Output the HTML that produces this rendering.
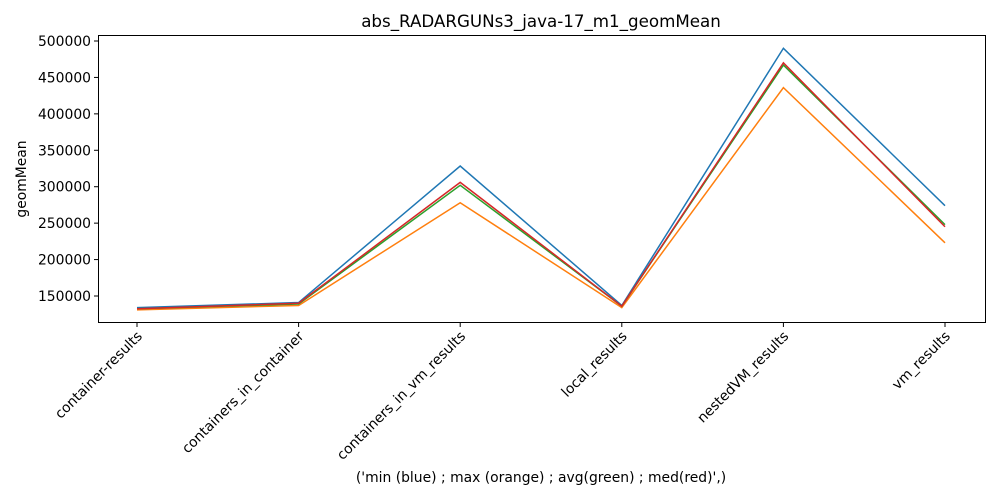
<!DOCTYPE html>
<html><head><meta charset="utf-8"><style>body{margin:0;background:#fff}svg{display:block;font-family:"DejaVu Sans","Liberation Sans",sans-serif}</style></head>
<body>
<svg id="chart" width="1000" height="500">
<rect width="1000" height="500" fill="#fff"/>
<text x="541" y="27" text-anchor="middle" font-size="16.7">abs_RADARGUNs3_java-17_m1_geomMean</text>
<text x="541" y="482" text-anchor="middle" font-size="13.9">('min (blue) ; max (orange) ; avg(green) ; med(red)',)</text>
<text transform="translate(26,179) rotate(-90)" text-anchor="middle" font-size="13.9">geomMean</text>
<g id="plot"></g>
<rect x="98.5" y="35.5" width="887" height="287" fill="none" stroke="#000" stroke-width="1"/>
</svg>
<script>
const categories=["container-results","containers_in_container","containers_in_vm_results","local_results","nestedVM_results","vm_results"];
const minVals=[134000,141000,328400,137000,490000,274000];
const maxVals=[131000,137000,278000,134000,436000,223000];
const avgVals=[132500,139000,302000,136000,467000,248000];
const medVals=[132500,140000,306000,136000,470000,245000];
const yTicks=[150000,200000,250000,300000,350000,400000,450000,500000];
const ns="http://www.w3.org/2000/svg";
const g=document.getElementById('plot');
const x=i=>137+i*161.6;
const y=v=>296-(v-150000)*255/350000;
function mk(t,a){const e=document.createElementNS(ns,t);for(const k in a)e.setAttribute(k,a[k]);g.appendChild(e);return e;}
yTicks.forEach(v=>{
 const t=mk('line',{x1:94,x2:98.5,y1:y(v),y2:y(v),stroke:'#000'});
 
 
 const l=mk('text',{x:91,y:y(v)+5,'text-anchor':'end','font-size':'13.9'});
 l.textContent=v;
 
 
});
categories.forEach((c,i)=>{
 const t=mk('line',{x1:x(i),x2:x(i),y1:322.5,y2:327,stroke:'#000'});
 
 
 const l=mk('text',{x:x(i)+6,y:337,'text-anchor':'end','font-size':'13.9',transform:`rotate(-45 ${x(i)+6} 337)`});
 l.textContent=c;
 
 
});
[[minVals,'#1f77b4','min'],[maxVals,'#ff7f0e','max'],[avgVals,'#2ca02c','avg'],[medVals,'#d62728','med']].forEach(([vals,col,n])=>{
 const p=mk('polyline',{points:vals.map((v,i)=>x(i)+','+y(v)).join(' '),fill:'none',stroke:col,'stroke-width':1.5});
 
 
});
</script>
</body></html>
